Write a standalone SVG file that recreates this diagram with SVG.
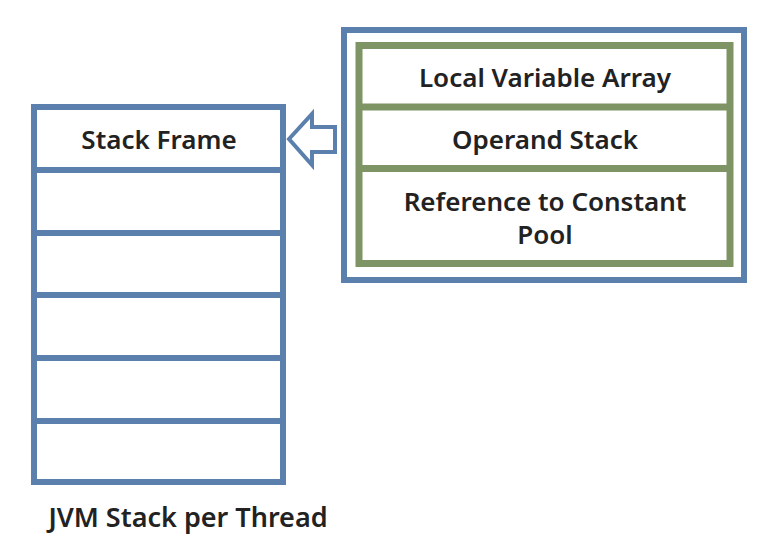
<svg xmlns="http://www.w3.org/2000/svg" width="774" height="552" viewBox="0 0 774 552">
<style>
.blue{fill:none;stroke:#5b80ae;stroke-width:6}
.green{fill:none;stroke:#7f9464;stroke-width:7}
.t{font-family:"Noto Sans","DejaVu Sans",sans-serif;font-size:26px;font-weight:600;fill:#222222;text-anchor:middle}
</style>
<rect width="774" height="552" fill="#ffffff"/>
<g id="jvm-stack">
<rect class="blue" x="34" y="107" width="249" height="375"/>
<line class="blue" x1="34" y1="170" x2="283" y2="170"/>
<line class="blue" x1="34" y1="233" x2="283" y2="233"/>
<line class="blue" x1="34" y1="295" x2="283" y2="295"/>
<line class="blue" x1="34" y1="358" x2="283" y2="358"/>
<line class="blue" x1="34" y1="421" x2="283" y2="421"/>
<text class="t" x="159" y="149">Stack Frame</text>
<text class="t" x="188" y="527" style="font-size:27px">JVM Stack per Thread</text>
</g>
<g id="frame-detail">
<rect class="blue" x="344" y="30" width="400" height="250"/>
<rect class="green" x="359" y="45.5" width="371" height="218"/>
<line class="green" x1="359" y1="107" x2="730" y2="107"/>
<line class="green" x1="359" y1="168.5" x2="730" y2="168.5"/>
<text class="t" x="545" y="87">Local Variable Array</text>
<text class="t" x="545" y="149">Operand Stack</text>
<text class="t" x="545" y="211">Reference to Constant</text>
<text class="t" x="545" y="244">Pool</text>
</g>
<g id="connectors">
<path d="M289,139 L312,114 L312,127 L335,127 L335,152 L312,152 L312,165 Z" fill="#ffffff" stroke="#5b80ae" stroke-width="4" stroke-linejoin="miter"/>
</g>
</svg>
